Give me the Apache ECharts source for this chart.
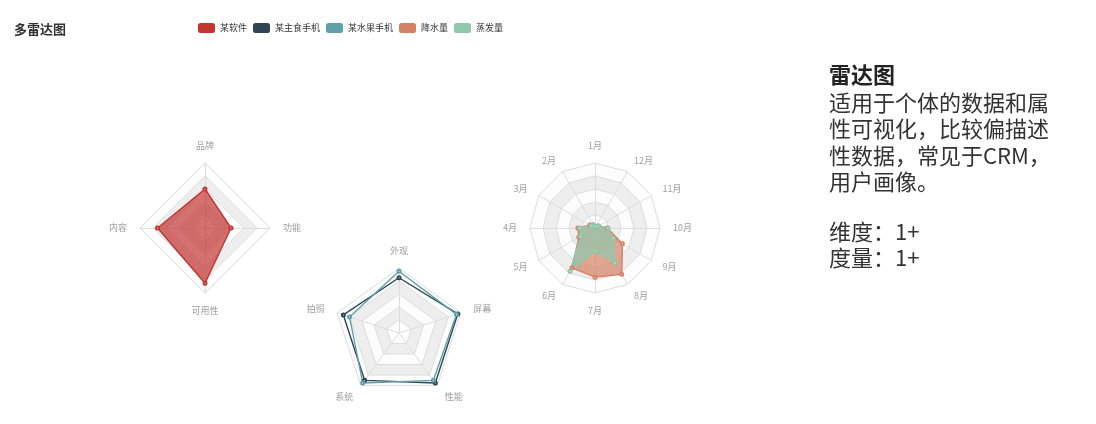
<!DOCTYPE html>
<html>
<head>
<meta charset="utf-8">
<script src="https://cdn.jsdelivr.net/npm/echarts@6/dist/echarts.min.js"></script>
<style>
html,body{margin:0;padding:0;background:#fff;}
#main{width:1096px;height:424px;}
</style>
</head>
<body>
<div id="main"></div>
<script>
var legendNames = ['某软件', '某主食手机', '某水果手机', '降水量', '蒸发量'];
var radar1Indicators = ['品牌', '内容', '可用性', '功能'];
var radar2Indicators = ['外观', '拍照', '系统', '性能', '屏幕'];
var monthIndicators = ['1月','2月','3月','4月','5月','6月','7月','8月','9月','10月','11月','12月'];
var softwareValues = [60, 73, 85, 40];
var phoneAValues = [85, 90, 90, 95, 95];
var phoneBValues = [95, 80, 95, 90, 93];
var rainValues = [2.6, 5.9, 9.0, 26.4, 28.7, 70.7, 75.6, 82.2, 48.7, 18.8, 6.0, 2.3];
var evapValues = [2.0, 4.9, 7.0, 23.2, 25.6, 76.7, 35.6, 62.2, 32.6, 20.0, 6.4, 3.3];
var colors = ['#c23531', '#2f4554', '#61a0a8', '#d48265', '#91c7ae'];

function ind(names) { return names.map(function (n) { return { name: n, max: 100 }; }); }

var radarCommon = {
  radius: 65,
  axisName: { color: '#a0a0a0', fontSize: 9 },
  nameGap: 13,
  splitNumber: 5,
  axisLine: { lineStyle: { color: '#ddd', width: 1 } },
  splitLine: { lineStyle: { color: '#ddd', width: 1 } },
  splitArea: { show: true, areaStyle: { color: ['rgba(250,250,250,0.3)', 'rgba(200,200,200,0.3)'] } }
};

var chart = echarts.init(document.getElementById('main'));
var seriesCommon = { type: 'radar', symbol: 'emptyCircle', symbolSize: 3, lineStyle: { width: 1.4 } };

chart.setOption({
  backgroundColor: '#fff',
  color: colors,
  textStyle: { fontFamily: '"Noto Sans CJK SC", "Noto Sans", sans-serif' },
  title: {
    text: '多雷达图', left: 9, top: 18,
    textStyle: { fontSize: 13, fontWeight: 'bold', color: '#333' }
  },
  legend: {
    data: legendNames, left: 193, top: 18,
    icon: 'roundRect', itemWidth: 17, itemHeight: 10, itemGap: 6,
    textStyle: { fontSize: 9, color: '#333' }
  },
  radar: [
    Object.assign({}, radarCommon, { indicator: ind(radar1Indicators), center: [205, 228] }),
    Object.assign({}, radarCommon, { indicator: ind(radar2Indicators), center: [399, 333] }),
    Object.assign({}, radarCommon, { indicator: ind(monthIndicators), center: [595, 228] })
  ],
  series: [
    Object.assign({}, seriesCommon, {
      radarIndex: 0, areaStyle: { opacity: 0.7 },
      data: [{ value: softwareValues, name: legendNames[0] }]
    }),
    Object.assign({}, seriesCommon, {
      radarIndex: 1,
      data: [
        { value: phoneAValues, name: legendNames[1] },
        { value: phoneBValues, name: legendNames[2] }
      ]
    }),
    Object.assign({}, seriesCommon, {
      radarIndex: 2, areaStyle: { opacity: 0.7 },
      data: [
        { value: rainValues, name: legendNames[3] },
        { value: evapValues, name: legendNames[4] }
      ]
    })
  ],
  graphic: [
    {
      type: 'text', left: 829, top: 64,
      style: { text: '雷达图', font: 'bold 22px "Noto Sans CJK SC", sans-serif', fill: '#222' }
    },
    {
      type: 'text', left: 829, top: 89,
      style: {
        text: '适用于个体的数据和属\n性可视化，比较偏描述\n性数据，常见于CRM，\n用户画像。',
        font: '22px "Noto Sans CJK SC", sans-serif', lineHeight: 26.5, fill: '#333'
      }
    },
    {
      type: 'text', left: 829, top: 219,
      style: {
        text: '维度：1+\n度量：1+',
        font: '22px "Noto Sans CJK SC", sans-serif', lineHeight: 25.5, fill: '#333'
      }
    }
  ]
});
</script>
</body>
</html>
